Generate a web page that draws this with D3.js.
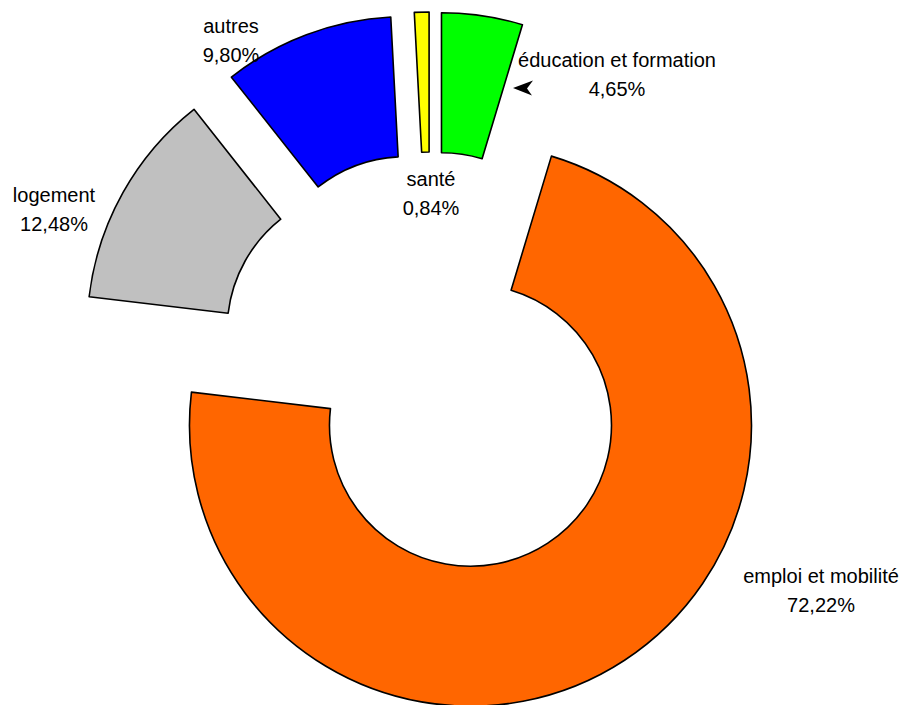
<!DOCTYPE html>
<html>
<head>
<meta charset="utf-8">
<script src="https://cdn.jsdelivr.net/npm/d3@7/dist/d3.min.js"></script>
<style>
  html, body { margin: 0; padding: 0; background: #fff; }
  svg { display: block; }
  text { font-family: "Liberation Sans", Arial, sans-serif; font-size: 20px; fill: #000; }
</style>
</head>
<body>
<svg id="chart" width="899" height="705"></svg>
<script>
// Data (clockwise from 12 o'clock)
const categories = ["éducation et formation", "emploi et mobilité", "logement", "autres", "santé"];
const values = [4.65, 72.22, 12.48, 9.80, 0.84];
const valueLabels = ["4,65%", "72,22%", "12,48%", "9,80%", "0,84%"];
const colors = ["#00FF00", "#FF6600", "#C0C0C0", "#0000FF", "#FFFF00"];
// Label anchor positions (middle of the two-line label, first baseline)
const labelX = [617, 821, 54, 231, 431];
const labelY = [67, 583, 202, 33, 186];

const svg = d3.select("#chart");
const cx = 431, cy = 365;
const outerR = 281, innerR = 141, explode = 72;

const pie = d3.pie().sort(null).value(d => d).startAngle(0).endAngle(2 * Math.PI);
const arcs = pie(values);
const arc = d3.arc().innerRadius(innerR).outerRadius(outerR);

const g = svg.append("g").attr("transform", `translate(${cx},${cy})`);

g.selectAll("path.slice")
  .data(arcs)
  .enter()
  .append("path")
  .attr("class", "slice")
  .attr("d", arc)
  .attr("fill", (d, i) => colors[i])
  .attr("stroke", "#000")
  .attr("stroke-width", 1.6)
  .attr("stroke-linejoin", "round")
  .attr("transform", d => {
    const a = (d.startAngle + d.endAngle) / 2;
    return `translate(${explode * Math.sin(a)},${-explode * Math.cos(a)})`;
  });

// Labels
const lbl = svg.append("g");
categories.forEach((c, i) => {
  const t = lbl.append("text").attr("text-anchor", "middle");
  t.append("tspan").attr("x", labelX[i]).attr("y", labelY[i]).text(c);
  t.append("tspan").attr("x", labelX[i]).attr("y", labelY[i] + 29).text(valueLabels[i]);
});

// Leader arrowhead for éducation et formation
svg.append("path")
  .attr("d", "M513,88 L533,80.5 L527,88.5 L532,95.5 Z")
  .attr("fill", "#000");
</script>
</body>
</html>
